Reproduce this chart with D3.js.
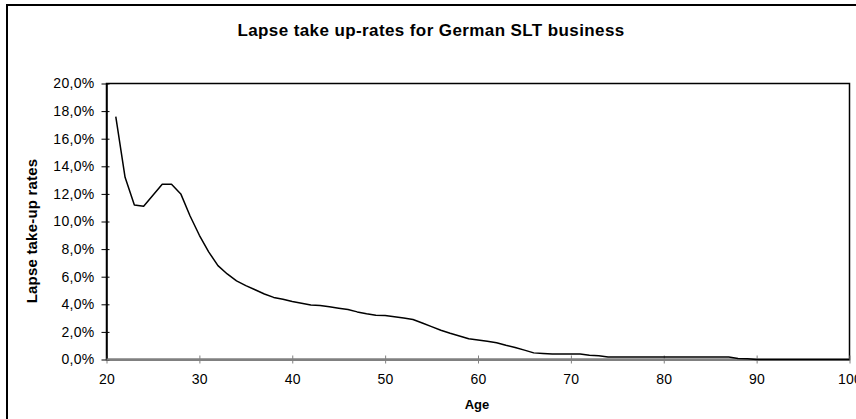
<!DOCTYPE html>
<html>
<head>
<meta charset="utf-8">
<script src="https://cdn.jsdelivr.net/npm/d3@7"></script>
<style>
  body { margin: 0; background: #fff; }
  text { font-family: "Liberation Sans", Arial, sans-serif; fill: #000; }
  .title { font-size: 17px; font-weight: bold; text-anchor: middle; letter-spacing: 0.4px; }
  .label { font-size: 13px; font-weight: bold; text-anchor: middle; }
  .ylabel { font-size: 15px; font-weight: bold; text-anchor: middle; letter-spacing: 0.2px; }
  .axis text { font-size: 14px; letter-spacing: 0.3px; }
</style>
</head>
<body>
<div id="linechart"></div>
<script>
// data
let ages = [21, 22, 23, 24, 25, 26, 27, 28, 29, 30,
    31, 32, 33, 34, 35, 36, 37, 38, 39, 40,
    41, 42, 43, 44, 45, 46, 47, 48, 49, 50,
    51, 52, 53, 54, 55, 56, 57, 58, 59, 60,
    61, 62, 63, 64, 65, 66, 67, 68, 69, 70,
    71, 72, 73, 74, 75, 76, 77, 78, 79, 80,
    81, 82, 83, 84, 85, 86, 87, 88, 89, 90,
    91, 92, 93, 94, 95, 96, 97, 98, 99, 100];
// lapse take-up rates in %
let rates = [17.6, 13.2, 11.2, 11.1, 11.9, 12.7, 12.7, 12.0, 10.4, 9.0,
    7.8, 6.8, 6.2, 5.7, 5.35, 5.05, 4.75, 4.5, 4.37, 4.2,
    4.07, 3.95, 3.92, 3.82, 3.72, 3.62, 3.45, 3.32, 3.21, 3.19,
    3.1, 3.0, 2.9, 2.65, 2.38, 2.12, 1.9, 1.7, 1.5, 1.42,
    1.33, 1.22, 1.03, 0.87, 0.68, 0.48, 0.44, 0.4, 0.4, 0.4,
    0.4, 0.31, 0.27, 0.18, 0.18, 0.18, 0.18, 0.18, 0.18, 0.18,
    0.18, 0.18, 0.18, 0.18, 0.18, 0.18, 0.18, 0.08, 0.06, 0,
    0, 0, 0, 0, 0, 0, 0, 0, 0, 0];
let xTicks = [20, 30, 40, 50, 60, 70, 80, 90, 100];
let yTicks = [0, 2, 4, 6, 8, 10, 12, 14, 16, 18, 20];

let canvasWidth = 856;
let canvasHeight = 419;
let plotLeft = 106.5;
let plotRight = 849.5;
let plotTop = 83.5;
let plotBottom = 359.5;

let svg = d3.select("div#linechart")
    .append("svg")
    .attr("width", canvasWidth)
    .attr("height", canvasHeight);

// outer chart border (right and bottom edges fall outside the picture)
svg.append("rect")
    .attr("x", 7)
    .attr("y", 5)
    .attr("width", 860)
    .attr("height", 430)
    .attr("fill", "none")
    .attr("stroke", "#000")
    .attr("stroke-width", 2);

// title
svg.append("text")
    .attr("class", "title")
    .attr("x", 431)
    .attr("y", 36)
    .text("Lapse take up-rates for German SLT business");

let xScale = d3.scaleLinear().domain([20, 100]).range([plotLeft, plotRight]);
let yScale = d3.scaleLinear().domain([0, 20]).range([plotBottom, plotTop]);

// plot area frame
svg.append("rect")
    .attr("x", plotLeft)
    .attr("y", plotTop)
    .attr("width", plotRight - plotLeft)
    .attr("height", plotBottom - plotTop)
    .attr("fill", "none")
    .attr("stroke", "#000")
    .attr("stroke-width", 1.5);

// x axis (grey, ticks cross the line)
let xAxis = svg.append("g")
    .attr("class", "axis")
    .attr("transform", "translate(0," + plotBottom + ")")
    .call(d3.axisBottom(xScale).tickValues(xTicks).tickSizeOuter(0).tickSizeInner(4).tickPadding(12));
xAxis.select(".domain").attr("stroke", "#808080").attr("stroke-width", 2);
xAxis.selectAll(".tick line").attr("stroke", "#808080").attr("y1", -4);
xAxis.selectAll(".tick text").attr("dy", "0.71em").attr("y", 15);

// y axis (black)
let yAxis = svg.append("g")
    .attr("class", "axis")
    .attr("transform", "translate(" + plotLeft + ",0)")
    .call(d3.axisLeft(yScale).tickValues(yTicks).tickSizeOuter(0).tickSizeInner(5)
        .tickFormat(d => d.toFixed(1).replace(".", ",") + "%"));
yAxis.select(".domain").attr("stroke", "#000").attr("stroke-width", 1.5);
yAxis.selectAll(".tick line").attr("stroke", "#000").attr("x2", -5).attr("x1", 3);
yAxis.selectAll(".tick text").attr("x", -12);

// redraw grey bottom axis line over the frame
svg.append("line")
    .attr("x1", plotLeft).attr("x2", plotRight)
    .attr("y1", plotBottom).attr("y2", plotBottom)
    .attr("stroke", "#808080").attr("stroke-width", 2);

// line
let points = ages.map((a, i) => [a, rates[i]]);
svg.append("path")
    .datum(points)
    .attr("fill", "none")
    .attr("stroke", "#000")
    .attr("stroke-width", 1.5)
    .attr("stroke-linejoin", "round")
    .attr("d", d3.line()
        .x(d => xScale(d[0]))
        .y(d => yScale(d[1])));

// axis labels
svg.append("text")
    .attr("class", "label")
    .attr("x", 477)
    .attr("y", 409)
    .text("Age");

svg.append("text")
    .attr("class", "ylabel")
    .attr("transform", "translate(37,231) rotate(270)")
    .text("Lapse take-up rates");
</script>
</body>
</html>
